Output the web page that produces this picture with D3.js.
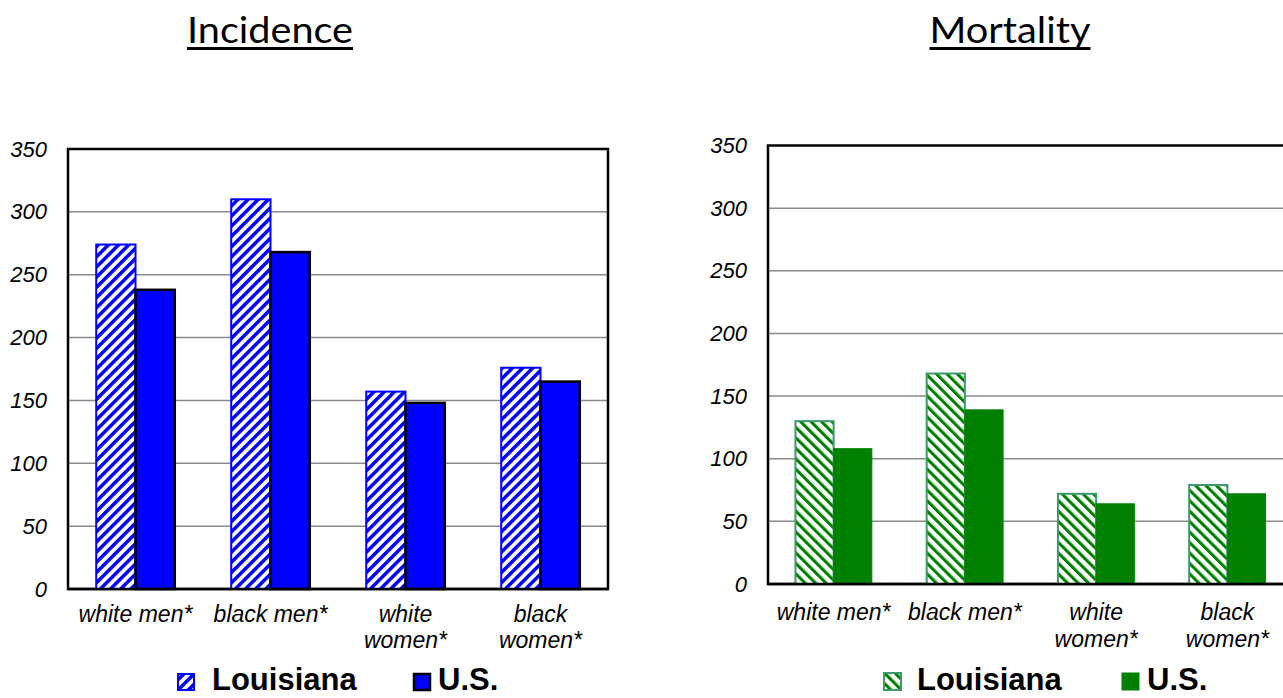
<!DOCTYPE html>
<html><head><meta charset="utf-8">
<script src="https://cdn.jsdelivr.net/npm/d3@7"></script>
<style>
html,body{margin:0;padding:0;background:#fff;}
svg{display:block;}
</style></head>
<body>
<script>
const categories = [["white men*"], ["black men*"], ["white", "women*"], ["black", "women*"]];
const seriesNames = ["Louisiana", "U.S."];
const incidenceLouisiana = [274, 310, 157, 176];
const incidenceUS = [238, 268, 148, 165];
const mortalityLouisiana = [130, 168, 72, 79];
const mortalityUS = [108, 139, 64, 72];
const yTicks = [0, 50, 100, 150, 200, 250, 300, 350];
const titles = ["Incidence", "Mortality"];

const W = 1283, H = 698;
const svg = d3.select("body").append("svg").attr("width", W).attr("height", H);
const defs = svg.append("defs");

function hatch(id, color, period, stripe, angle) {
  const p = defs.append("pattern").attr("id", id)
    .attr("patternUnits", "userSpaceOnUse")
    .attr("width", period).attr("height", period)
    .attr("patternTransform", `rotate(${angle})`);
  p.append("rect").attr("width", period).attr("height", period).attr("fill", "#fff");
  p.append("rect").attr("x", 0).attr("width", stripe).attr("height", period).attr("fill", color);
}
hatch("hatchBlue", "#0000ff", 7.2, 3.5, 45);
hatch("hatchGreen", "#008000", 7.4, 3.1, -45);

const tickFont = "'Liberation Sans', Arial, sans-serif";

function drawChart(cfg) {
  const g = svg.append("g");
  const x0 = d3.scaleBand().domain(d3.range(categories.length))
    .range([cfg.left, cfg.left + cfg.width]).paddingInner(0.418).paddingOuter(0.209);
  const x1 = d3.scaleBand().domain(seriesNames).range([0, x0.bandwidth()]);
  const y = d3.scaleLinear().domain([0, 350]).range([cfg.bottom, cfg.top]);

  // gridlines
  g.append("g").selectAll("line").data(yTicks.filter(t => t > 0 && t < 350)).join("line")
    .attr("x1", cfg.left).attr("x2", cfg.left + cfg.width)
    .attr("y1", d => y(d)).attr("y2", d => y(d))
    .attr("stroke", "#8a8a8a").attr("stroke-width", 1.5);

  // frame
  g.append("rect").attr("x", cfg.left).attr("y", y(350))
    .attr("width", cfg.width).attr("height", cfg.bottom - y(350))
    .attr("fill", "none").attr("stroke", "#000").attr("stroke-width", 2.5);

  // y axis labels
  const yAxis = d3.axisLeft(y).tickValues(yTicks).tickSize(0).tickPadding(cfg.tickPad);
  const ya = g.append("g").attr("transform", `translate(${cfg.left},0)`).call(yAxis);
  ya.select(".domain").remove();
  ya.selectAll("text").attr("font-family", tickFont).attr("font-style", "italic")
    .attr("font-size", cfg.tickSize).attr("fill", "#000");

  // bars
  const groups = g.append("g").selectAll("g").data(d3.range(categories.length)).join("g")
    .attr("transform", i => `translate(${x0(i)},0)`);
  groups.append("rect")
    .attr("x", x1("Louisiana")).attr("width", x1.bandwidth())
    .attr("y", i => y(cfg.la[i])).attr("height", i => cfg.bottom - y(cfg.la[i]))
    .attr("fill", `url(#${cfg.hatch})`).attr("stroke", cfg.laStroke).attr("stroke-width", 2);
  groups.append("rect")
    .attr("x", x1("U.S.")).attr("width", x1.bandwidth())
    .attr("y", i => y(cfg.us[i])).attr("height", i => cfg.bottom - y(cfg.us[i]))
    .attr("fill", cfg.usFill).attr("stroke", cfg.usStroke).attr("stroke-width", cfg.usStrokeW);

  // bottom axis line redraw
  g.append("line").attr("x1", cfg.left).attr("x2", cfg.left + cfg.width)
    .attr("y1", cfg.bottom).attr("y2", cfg.bottom).attr("stroke", "#000").attr("stroke-width", 2.5);

  // category labels
  const xAxis = d3.axisBottom(x0).tickSize(0).tickFormat(() => "");
  const xa = g.append("g").attr("transform", `translate(0,${cfg.bottom})`).call(xAxis);
  xa.select(".domain").remove();
  xa.selectAll(".tick").each(function(i) {
    const t = d3.select(this).append("text")
      .attr("font-family", tickFont).attr("font-style", "italic")
      .attr("font-size", cfg.labelSize).attr("fill", "#000").attr("text-anchor", "middle");
    categories[i].forEach((line, k) => {
      t.append("tspan").attr("x", 0).attr("y", cfg.labelY + k * cfg.labelLH).text(line);
    });
  });

  // title
  svg.append("text").attr("x", cfg.titleX).attr("y", 43)
    .attr("text-anchor", "middle").attr("font-family", "Lato, 'Open Sans', sans-serif")
    .attr("font-size", 36).attr("textLength", cfg.titleW).attr("lengthAdjust", "spacingAndGlyphs")
    .attr("fill", "#000").text(cfg.title);
  svg.append("line").attr("x1", cfg.titleX - cfg.titleW / 2).attr("x2", cfg.titleX + cfg.titleW / 2)
    .attr("y1", 48.5).attr("y2", 48.5).attr("stroke", "#000").attr("stroke-width", 3);

  // legend
  const lg = svg.append("g");
  lg.append("rect").attr("x", cfg.leg[0]).attr("y", cfg.legY - cfg.legSq)
    .attr("width", cfg.legSq).attr("height", cfg.legSq)
    .attr("fill", `url(#${cfg.hatch})`).attr("stroke", cfg.laStroke).attr("stroke-width", 2);
  lg.append("text").attr("x", cfg.leg[1]).attr("y", cfg.legY)
    .attr("font-family", tickFont).attr("font-weight", "bold").attr("font-size", cfg.legSize)
    .attr("fill", "#000").text(seriesNames[0]);
  lg.append("rect").attr("x", cfg.leg[2]).attr("y", cfg.legY - cfg.legSq)
    .attr("width", cfg.legSq).attr("height", cfg.legSq)
    .attr("fill", cfg.usFill).attr("stroke", cfg.usStroke).attr("stroke-width", cfg.usStrokeW);
  lg.append("text").attr("x", cfg.leg[3]).attr("y", cfg.legY)
    .attr("font-family", tickFont).attr("font-weight", "bold").attr("font-size", cfg.legSize)
    .attr("fill", "#000").text(seriesNames[1]);
}

drawChart({
  left: 68, width: 540, top: 149, bottom: 589,
  la: incidenceLouisiana, us: incidenceUS,
  hatch: "hatchBlue", laStroke: "#0000ff", usFill: "#0000ff", usStroke: "#000", usStrokeW: 2.5,
  tickPad: 21, tickSize: 22, labelSize: 23, labelY: 33, labelLH: 26,
  title: titles[0], titleX: 270, titleW: 166,
  leg: [178, 212, 414, 438], legY: 690, legSq: 16, legSize: 31
});
drawChart({
  left: 768, width: 525, top: 145.5, bottom: 584,
  la: mortalityLouisiana, us: mortalityUS,
  hatch: "hatchGreen", laStroke: "#3c9a6c", usFill: "#008000", usStroke: "#008000", usStrokeW: 1,
  tickPad: 21, tickSize: 22, labelSize: 23, labelY: 36, labelLH: 27,
  title: titles[1], titleX: 1010, titleW: 161,
  leg: [884, 917, 1122, 1147], legY: 690, legSq: 17, legSize: 31
});
</script>
</body></html>
